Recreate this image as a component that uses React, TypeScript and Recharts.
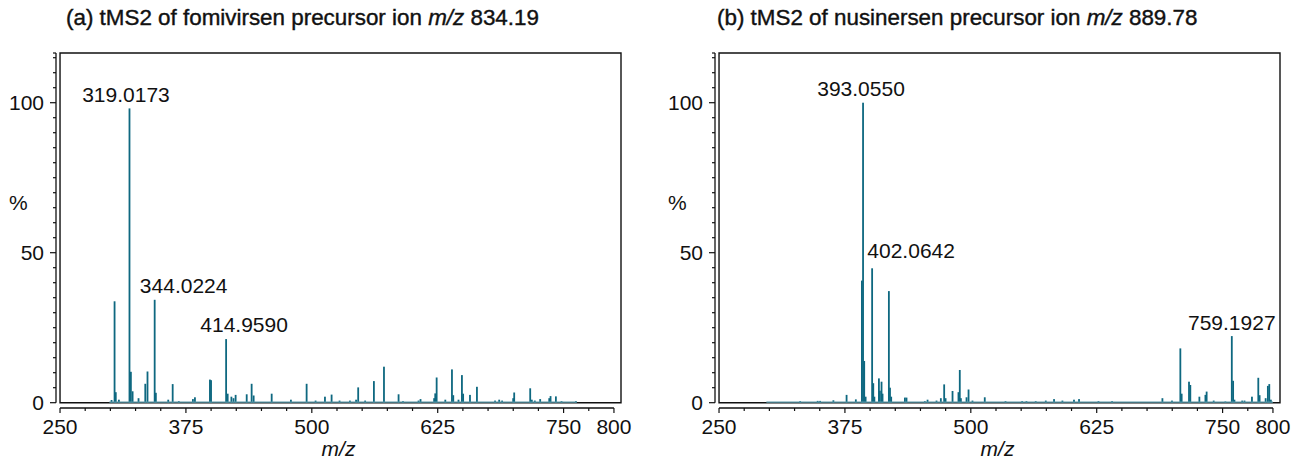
import React from "react";
import { BarChart, Bar, XAxis, YAxis, ReferenceArea, ReferenceLine } from "recharts";

const FONT = '"Liberation Sans", Arial, Helvetica, sans-serif';
const INK = "#111";
const PEAK = "#0e6880";
const BASE = "#5a98a8";

const X_MIN = 246;
const X_MAX = 807;
const Y_MIN = -1.77;
const Y_MAX = 116.57;

const X_TICKS = [250, 275, 300, 325, 350, 375, 400, 425, 450, 475, 500, 525, 550, 575, 600, 625, 650, 675, 700, 725, 750, 775, 800];
const X_LABELED = [250, 375, 500, 625, 750, 800];
const Y_TICKS = [0, 5, 10, 15, 20, 25, 30, 35, 40, 45, 50, 55, 60, 65, 70, 75, 80, 85, 90, 95, 100, 105, 110, 115, 116.57];
const Y_LABELED = [0, 50, 100];

// (a) fomivirsen, precursor m/z 834.19: [m/z, relative %]
const PEAKS_A: [number, number][] = [
  [301.2, 0.9], [304.2, 33.8], [305.4, 3.5], [308.5, 1.0], [319.0173, 98.1], [320.4, 10.3],
  [322.1, 3.8], [328.0, 1.5], [334.7, 6.3], [336.9, 10.4], [344.0224, 34.3], [345.2, 3.3],
  [357.5, 1.0], [361.9, 6.2], [368.0, 0.5], [382.0, 1.2], [384.0, 1.8], [398.9, 7.7],
  [400.0, 7.5], [414.959, 21.2], [416.5, 3.0], [420.2, 2.0], [422.3, 1.5], [424.4, 2.6],
  [435.4, 2.8], [440.3, 6.3], [442.3, 2.4], [460.2, 3.0], [479.3, 1.0], [494.9, 6.3],
  [503.8, 0.7], [513.1, 2.0], [519.7, 2.7], [527.6, 0.7], [537.9, 0.7], [544.0, 1.0],
  [546.1, 5.1], [553.0, 0.7], [561.7, 7.2], [571.7, 12.0], [586.2, 2.8], [590.6, 0.5],
  [606.0, 0.7], [608.0, 1.2], [621.5, 1.5], [622.6, 3.1], [624.0, 8.4], [632.6, 1.0],
  [639.2, 11.1], [640.5, 2.5], [645.7, 1.0], [649.1, 9.2], [650.3, 3.0], [657.1, 2.6],
  [664.0, 5.3], [682.0, 0.7], [686.1, 1.0], [689.0, 0.7], [700.0, 1.5], [701.0, 3.4],
  [716.9, 4.8], [718.5, 1.0], [721.5, 0.7], [726.8, 1.2], [735.8, 1.5], [737.1, 2.2],
  [742.4, 2.1], [748.0, 0.5], [762.3, 0.5],
];
const LABELS_A: [number, string][] = [[319.0173, "319.0173"], [344.0224, "344.0224"], [414.959, "414.9590"]];
const BASELINE_A = [299, 763];

// (b) nusinersen, precursor m/z 889.78
const PEAKS_B: [number, number][] = [
  [330.6, 0.5], [348.0, 0.6], [350.4, 0.6], [363.6, 0.8], [376.7, 2.6], [385.9, 1.1],
  [391.9, 40.7], [393.055, 100], [394.2, 13.9], [395.6, 2.0], [402.0642, 44.8], [403.2, 6.5],
  [404.3, 2.0], [408.8, 8.1], [409.8, 4.0], [411.4, 7.0], [412.4, 3.0], [418.7, 37.2],
  [419.8, 5.0], [421.0, 2.0], [434.6, 1.7], [436.2, 1.7], [454.4, 0.5], [457.1, 1.0],
  [466.0, 0.7], [470.3, 1.5], [473.6, 6.1], [475.0, 1.5], [481.9, 3.9], [487.8, 3.5],
  [489.1, 10.9], [490.2, 1.5], [495.8, 1.8], [497.8, 4.4], [501.7, 0.7], [513.9, 1.8],
  [534.5, 0.5], [551.0, 0.5], [555.3, 0.5], [564.5, 0.5], [574.5, 0.7], [582.7, 1.2],
  [591.0, 0.7], [602.5, 1.0], [607.5, 1.2], [626.8, 0.5], [640.3, 0.5], [690.3, 1.5],
  [699.8, 0.7], [708.1, 18.1], [709.4, 3.0], [716.7, 7.0], [718.0, 5.9], [727.0, 2.0],
  [733.0, 2.6], [734.2, 3.7], [741.2, 0.7], [752.8, 0.4], [759.1927, 22.2], [760.5, 7.3],
  [761.8, 1.0], [769.5, 0.7], [771.8, 0.7], [779.2, 2.0], [785.5, 8.3], [786.8, 2.5],
  [792.8, 1.5], [795.0, 5.6], [796.4, 6.2], [798.0, 1.0],
];
const LABELS_B: [number, string][] = [[393.055, "393.0550"], [402.0642, "402.0642"], [759.1927, "759.1927"]];
const BASELINE_B = [297, 800];

// label nudges in px [dx, dy from peak top]
const LABEL_NUDGE: Record<string, [number, number]> = {
  "319.0173": [-3.5, -6.5],
  "344.0224": [29, -7],
  "414.9590": [18, -7],
  "393.0550": [-2, -6.5],
  "402.0642": [39, -10],
  "759.1927": [0, -6],
};

const buildRows = (peaks: [number, number][], labels: [number, string][]) =>
  peaks.map(([mz, pct]) => {
    const hit = labels.find((l) => l[0] === mz);
    return { mz, pct, label: hit ? hit[1] : "" };
  });

const ROWS_A = buildRows(PEAKS_A, LABELS_A);
const ROWS_B = buildRows(PEAKS_B, LABELS_B);

const Stick = (props: any) => {
  const { x, y, width, height, payload } = props;
  const cx = x + width / 2;
  const nudge = payload && payload.label ? LABEL_NUDGE[payload.label] || [0, -7] : null;
  return (
    <g>
      <rect x={cx - 0.9} y={y} width={1.8} height={Math.max(height, 0)} fill={PEAK} />
      {nudge && (
        <text x={cx + nudge[0]} y={y + nudge[1]} textAnchor="middle" fontSize={21} fontFamily={FONT} fill={INK}>
          {payload.label}
        </text>
      )}
    </g>
  );
};

const XTick = (props: any) => {
  const { x, y, payload } = props;
  const major = X_LABELED.includes(payload.value);
  return (
    <g>
      <line x1={x} x2={x} y1={y} y2={y + (major ? 5 : 3)} stroke={INK} strokeWidth={1.2} />
      {major && (
        <text x={x} y={y + 25.5} textAnchor="middle" fontSize={21} fontFamily={FONT} fill={INK}>
          {payload.value}
        </text>
      )}
    </g>
  );
};

const YTick = (props: any) => {
  const { x, y, payload } = props;
  const major = Y_LABELED.includes(payload.value);
  return (
    <g>
      <line x1={x - (major ? 6 : 3)} x2={x} y1={y} y2={y} stroke={INK} strokeWidth={1.2} />
      {major && (
        <text x={x - 12} y={y + 7.5} textAnchor="end" fontSize={21} fontFamily={FONT} fill={INK}>
          {payload.value}
        </text>
      )}
    </g>
  );
};

function Panel({ rows, width, baseline }: { rows: any[]; width: number; baseline: number[] }) {
  return (
    <BarChart width={width} height={466} data={rows} margin={{ top: 53, right: width - 621, bottom: 0, left: 0 }}>
      <XAxis
        type="number"
        dataKey="mz"
        domain={[X_MIN, X_MAX]}
        ticks={X_TICKS}
        interval={0}
        height={58}
        axisLine={false}
        tickLine={false}
        tickSize={0}
        tickMargin={0}
        tick={<XTick />}
        label={{ value: "m/z", position: "insideBottom", offset: 10, fontSize: 21, fontStyle: "italic", fill: INK, fontFamily: FONT }}
      />
      <YAxis
        type="number"
        domain={[Y_MIN, Y_MAX]}
        ticks={Y_TICKS}
        interval={0}
        width={56}
        axisLine={false}
        tickLine={false}
        tickSize={0}
        tickMargin={0}
        tick={<YTick />}
        label={{ value: "%", position: "insideLeft", offset: 9, dy: -28, fontSize: 21, fill: INK, fontFamily: FONT }}
      />
      <ReferenceArea x1={250} x2={X_MAX} y1={0} y2={Y_MAX} fill="none" stroke={INK} strokeWidth={1.4} ifOverflow="visible" />
      <ReferenceLine segment={[{ x: X_MIN, y: 0 }, { x: X_MIN, y: Y_MAX }]} stroke={INK} strokeWidth={1.3} ifOverflow="visible" />
      <ReferenceLine segment={[{ x: 250, y: Y_MIN }, { x: 800, y: Y_MIN }]} stroke={INK} strokeWidth={1.3} ifOverflow="visible" />
      <ReferenceLine segment={[{ x: baseline[0], y: 0.2 }, { x: baseline[1], y: 0.2 }]} stroke={BASE} strokeWidth={1.3} ifOverflow="visible" />
      <Bar dataKey="pct" barSize={2} shape={<Stick />} isAnimationActive={false} />
    </BarChart>
  );
}

function Title({ left, tag, drug, mz }: { left: number; tag: string; drug: string; mz: string }) {
  return (
    <div
      style={{
        position: "absolute",
        left,
        top: 7,
        fontSize: 22.4,
        lineHeight: "22px",
        fontFamily: FONT,
        color: INK,
        whiteSpace: "nowrap",
        WebkitTextStroke: `0.4px ${INK}`,
      }}
    >
      {tag} tMS2 of {drug} precursor ion <i>m/z</i> {mz}
    </div>
  );
}

export default function App() {
  return (
    <div style={{ position: "absolute", left: 0, top: 0, width: 1300, height: 466, overflow: "hidden", background: "#fff" }}>
      <div style={{ position: "absolute", left: 0, top: 0 }}>
        <Panel rows={ROWS_A} width={650} baseline={BASELINE_A} />
      </div>
      <div style={{ position: "absolute", left: 659, top: 0 }}>
        <Panel rows={ROWS_B} width={641} baseline={BASELINE_B} />
      </div>
      <Title left={66} tag="(a)" drug="fomivirsen" mz="834.19" />
      <Title left={717} tag="(b)" drug="nusinersen" mz="889.78" />
    </div>
  );
}
